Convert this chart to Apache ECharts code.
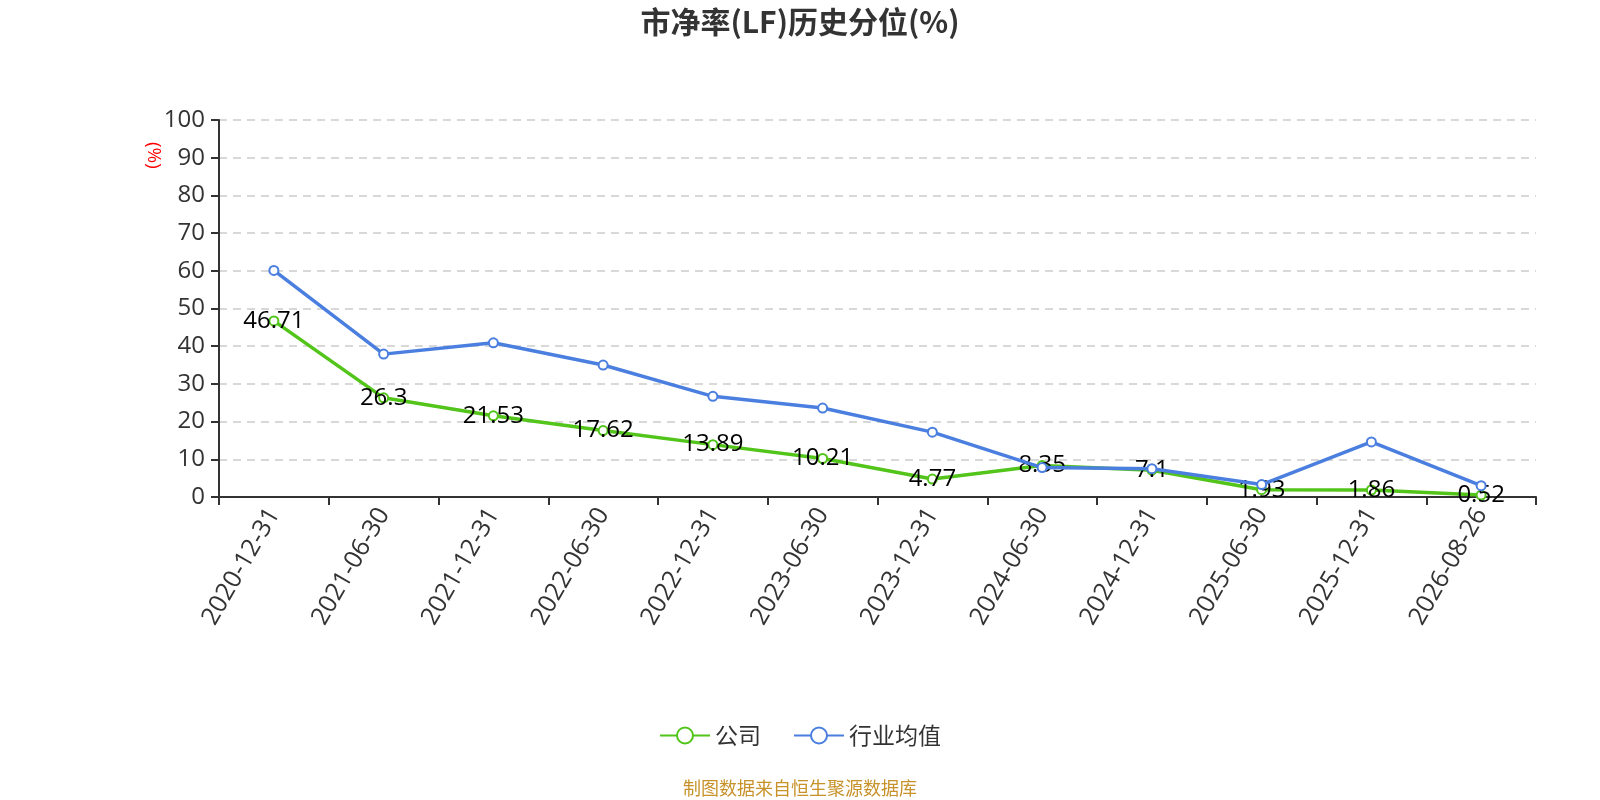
<!DOCTYPE html>
<html>
<head>
<meta charset="utf-8">
<script src="https://cdn.jsdelivr.net/npm/echarts@6/dist/echarts.min.js"></script>
<style>
  html, body { margin: 0; padding: 0; background: #fff; }
  #main { width: 1600px; height: 800px; }
</style>
</head>
<body>
<div id="main"></div>
<script>
var dates = ['2020-12-31', '2021-06-30', '2021-12-31', '2022-06-30', '2022-12-31', '2023-06-30',
  '2023-12-31', '2024-06-30', '2024-12-31', '2025-06-30', '2025-12-31', '2026-08-26']
var company = [46.71, 26.3, 21.53, 17.62, 13.89, 10.21, 4.77, 8.35, 7.1, 1.93, 1.86, 0.52]
var industry = [60.1, 37.9, 40.9, 35.0, 26.7, 23.6, 17.2, 7.8, 7.5, 3.3, 14.6, 3.0]
var yTicks = [0, 100, 10]

var myChart = echarts.init(document.getElementById('main'))
var font = '"Open Sans", "Noto Sans CJK SC", sans-serif'
var cjk = '"Noto Sans CJK SC", sans-serif'

var option = {
  textStyle: { fontFamily: font },
  title: {
    text: '市净率(LF)历史分位(%)',
    left: 'center',
    top: 2,
    textStyle: { fontSize: 30, fontWeight: 'bold', color: '#333', fontFamily: cjk }
  },
  legend: {
    data: ['公司', '行业均值'],
    bottom: 48,
    left: 'center',
    itemWidth: 50,
    itemHeight: 20,
    itemGap: 32,
    textStyle: { fontSize: 23, color: '#333', fontFamily: cjk }
  },
  grid: { left: 219, right: 64, top: 120, bottom: 303 },
  xAxis: {
    type: 'category',
    data: dates,
    boundaryGap: true,
    axisLine: { lineStyle: { color: '#333', width: 2 } },
    axisTick: { show: true, length: 8, lineStyle: { color: '#333', width: 2 } },
    axisLabel: { rotate: 60, fontSize: 25, color: '#333', margin: 13, interval: 0, fontFamily: font }
  },
  yAxis: {
    type: 'value',
    min: yTicks[0],
    max: yTicks[1],
    interval: yTicks[2],
    axisLine: { show: true, lineStyle: { color: '#333', width: 2 } },
    axisTick: { show: true, length: 8, lineStyle: { color: '#333', width: 2 } },
    axisLabel: { fontSize: 24, color: '#333', margin: 14, fontFamily: font },
    splitLine: { lineStyle: { type: [8, 6], color: '#ccc', width: 1.5 } }
  },
  graphic: [{
    type: 'text',
    x: 163,
    y: 142,
    rotation: -Math.PI / 2,
    originX: 0,
    originY: 0,
    style: { text: '(%)', fill: '#f00', fontSize: 19, fontFamily: font }
  }, {
    type: 'text',
    left: 'center',
    top: 779,
    style: { text: '制图数据来自恒生聚源数据库', fill: '#c8922a', fontSize: 18, fontFamily: cjk }
  }],
  series: [{
    name: '公司',
    type: 'line',
    data: company,
    symbol: 'emptyCircle',
    symbolSize: 9,
    itemStyle: { color: '#52c41a' },
    lineStyle: { width: 3.5, color: '#52c41a' },
    label: { show: true, position: 'inside', fontSize: 24, color: '#000', fontFamily: font },
    z: 2
  }, {
    name: '行业均值',
    type: 'line',
    data: industry,
    symbol: 'emptyCircle',
    symbolSize: 9,
    itemStyle: { color: '#4a7fe0' },
    lineStyle: { width: 3.5, color: '#4a7fe0' },
    z: 3
  }]
}

myChart.setOption(option)
</script>
</body>
</html>
